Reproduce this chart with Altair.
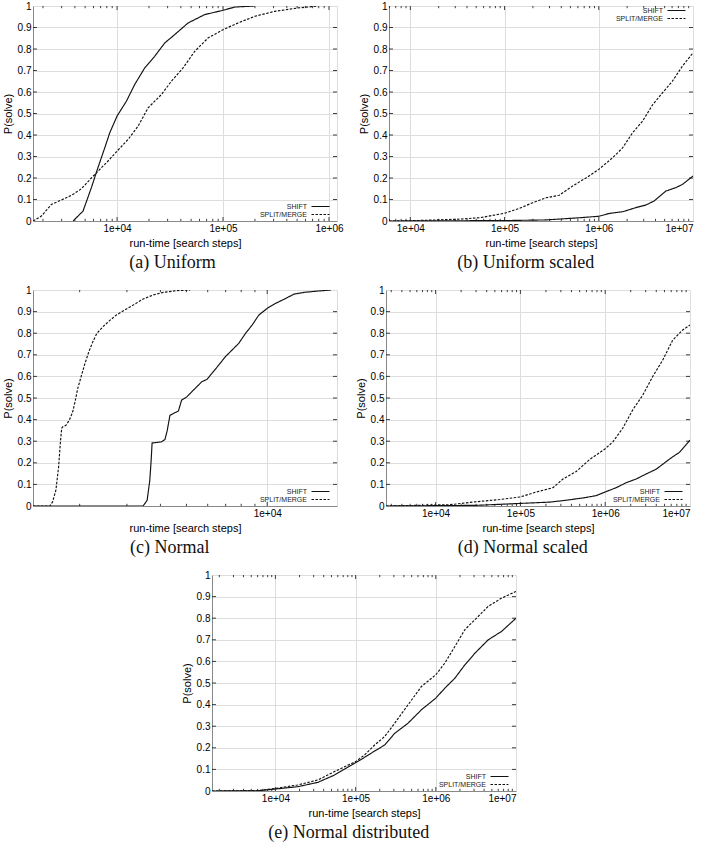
import math
import altair as alt
import pandas as pd

FONT = "Liberation Sans"
SERIF = "Liberation Serif"
SERIES = ["SHIFT", "SPLIT/MERGE"]

# ---------------- (a) Uniform ----------------
a_shift_x = [3846, 4775, 5724, 6622, 7651, 8531, 10000, 12250, 14680, 18240, 22650,
             28180, 34990, 46770, 67140, 100000, 128800, 199000]
a_shift_y = [0, 0.046, 0.155, 0.25, 0.34, 0.41, 0.488, 0.557, 0.635, 0.712, 0.766,
             0.828, 0.867, 0.921, 0.96, 0.98, 0.995, 1.0]
a_split_x = [1614, 1932, 2403, 2985, 3707, 4611, 5724, 6622, 8222, 10000, 12700, 15780,
             19600, 26200, 32570, 41950, 54030, 72140, 100000, 138600, 199000, 307000,
             510000, 787000]
a_split_y = [0, 0.023, 0.077, 0.098, 0.119, 0.15, 0.2, 0.232, 0.279, 0.325, 0.379, 0.441,
             0.526, 0.588, 0.65, 0.712, 0.789, 0.851, 0.89, 0.921, 0.952, 0.975, 0.991, 1.0]

# ---------------- (b) Uniform scaled ----------------
b_shift_x = [5940, 100000, 275600, 621000, 1000000, 1290000, 1790000, 2470000, 3150000,
             3860000, 4550000, 5140000, 6560000, 7710000, 10000000]
b_shift_y = [0, 0.002, 0.005, 0.015, 0.022, 0.035, 0.043, 0.062, 0.074, 0.093, 0.119,
             0.139, 0.155, 0.17, 0.209]
b_split_x = [5940, 10000, 30700, 54200, 100000, 143900, 199000, 275600, 381300, 528000,
             730800, 1000000, 1400000, 1790000, 2280000, 2910000, 3720000, 4740000,
             6040000, 7710000, 10000000]
b_split_y = [0, 0.001, 0.008, 0.015, 0.036, 0.059, 0.085, 0.108, 0.12, 0.163, 0.2, 0.24,
             0.294, 0.34, 0.41, 0.464, 0.54, 0.596, 0.65, 0.72, 0.782]

# ---------------- (c) Normal ----------------
c_shift_x = [1340, 3447, 3568, 3651, 3693, 3724, 3868, 4037, 4159, 4241, 4340, 4467, 4667,
             4797, 5012, 5236, 5464, 5702, 5957, 6223, 6592, 6982, 7396, 7834, 8298, 8790,
             9306, 10000, 10740, 11550, 12590, 13720, 15400, 17280]
c_shift_y = [0, 0, 0.026, 0.119, 0.21, 0.292, 0.294, 0.297, 0.308, 0.35, 0.42, 0.428, 0.44,
             0.49, 0.505, 0.529, 0.552, 0.575, 0.586, 0.614, 0.652, 0.691, 0.722, 0.753,
             0.799, 0.838, 0.884, 0.915, 0.938, 0.957, 0.981, 0.989, 0.995, 1.0]
c_split_x = [1340, 1549, 1585, 1631, 1669, 1694, 1714, 1728, 1778, 1830, 1884, 1922, 1967,
             2024, 2084, 2163, 2239, 2317, 2441, 2585, 2738, 2944, 3162, 3447, 3758, 4097,
             4597, 5158]
c_split_y = [0, 0, 0.019, 0.073, 0.18, 0.29, 0.36, 0.366, 0.374, 0.397, 0.436, 0.482,
             0.544, 0.598, 0.652, 0.714, 0.76, 0.799, 0.83, 0.858, 0.884, 0.907, 0.93,
             0.958, 0.977, 0.989, 0.997, 1.0]

# ---------------- (d) Normal scaled ----------------
d_shift_x = [2604, 30360, 100000, 221300, 317700, 545800, 783000, 1000000, 1350000,
             1770000, 2320000, 3030000, 3980000, 5220000, 6250000, 7500000, 10000000]
d_shift_y = [0, 0.003, 0.012, 0.018, 0.025, 0.037, 0.048, 0.065, 0.085, 0.108, 0.125,
             0.148, 0.17, 0.205, 0.228, 0.248, 0.305]
d_split_x = [2604, 14750, 30360, 57100, 100000, 154300, 242300, 317700, 456000, 654600,
             1000000, 1230000, 1610000, 2110000, 2770000, 3640000, 4760000, 6250000,
             8200000, 10000000]
d_split_y = [0, 0.006, 0.02, 0.03, 0.042, 0.065, 0.085, 0.125, 0.16, 0.215, 0.265, 0.297,
             0.36, 0.445, 0.513, 0.6, 0.675, 0.768, 0.815, 0.838]

# ---------------- (e) Normal distributed ----------------
e_shift_x = [1622, 6010, 10000, 19000, 33840, 54630, 100000, 129600, 172800, 230400,
             307300, 451000, 662000, 1000000, 1296000, 1728000, 2304000, 3073000,
             4510000, 6620000, 10000000]
e_shift_y = [0, 0.001, 0.009, 0.02, 0.04, 0.074, 0.131, 0.156, 0.185, 0.213, 0.267, 0.314,
             0.376, 0.43, 0.476, 0.522, 0.584, 0.638, 0.7, 0.739, 0.8]
e_split_x = [1622, 6010, 10000, 19000, 33840, 54630, 100000, 129600, 172800, 230400,
             307300, 451000, 662000, 1000000, 1296000, 1728000, 2304000, 3073000,
             4510000, 6620000, 10000000]
e_split_y = [0, 0.002, 0.012, 0.028, 0.051, 0.09, 0.136, 0.167, 0.213, 0.252, 0.314, 0.399,
             0.484, 0.538, 0.592, 0.669, 0.747, 0.793, 0.855, 0.893, 0.924]

# axis tick labels
y_ticks = [0, 0.1, 0.2, 0.3, 0.4, 0.5, 0.6, 0.7, 0.8, 0.9, 1]
x_major_a = [10000, 100000, 1000000]
x_major_bde = [10000, 100000, 1000000, 10000000]
x_major_c = [10000]

domains = {
    "a": [1610, 1190000],
    "b": [5940, 10000000],
    "c": [1340, 18200],
    "d": [2600, 10000000],
    "e": [1620, 10000000],
}

W, H = 304, 215


def tick_frames(domain, w, h):
    lo, hi = domain
    xt = []
    for e in range(int(math.floor(math.log10(lo))), int(math.ceil(math.log10(hi))) + 1):
        for k in range(1, 10):
            v = k * 10 ** e
            if lo < v < hi:
                ln = (4.0 if k == 1 else 2.2) / h
                xt.append({"v": v, "y0": 0, "y1": ln})
                xt.append({"v": v, "y0": 1, "y1": 1 - ln})
    f = 10 ** (4.0 * (math.log10(hi) - math.log10(lo)) / w)
    yt = []
    for t in y_ticks[1:-1]:
        yt.append({"v": t, "x0": lo, "x1": lo * f})
        yt.append({"v": t, "x0": hi, "x1": hi / f})
    return pd.DataFrame(xt), pd.DataFrame(yt)


def panel(sx, sy, px, py, domain, majors, caption, leg_y, h=H, cap_offset=6):
    rows = [{"series": "SHIFT", "x": x, "y": y} for x, y in zip(sx, sy)]
    rows += [{"series": "SPLIT/MERGE", "x": x, "y": y} for x, y in zip(px, py)]
    df = pd.DataFrame(rows)
    lo, hi = domain
    xscale = alt.Scale(type="log", domain=domain, nice=False)
    yscale = alt.Scale(domain=[0, 1], nice=False)
    edge_x = "datum.value <= %g || datum.value >= %g" % (lo * 1.001, hi * 0.999)
    xaxis = alt.Axis(values=majors, title="run-time [search steps]",
                     titleFontWeight="normal", tickSize=0, ticks=False,
                     labelExpr="'1e+0' + round(log(datum.value) / LN10)",
                     gridOpacity={"condition": {"test": edge_x, "value": 0}, "value": 1})
    yaxis = alt.Axis(values=y_ticks, title="P(solve)", format="~g",
                     titleFontWeight="normal", tickSize=0, ticks=False,
                     gridOpacity={"condition": {"test": "datum.value <= 0 || datum.value >= 1",
                                                "value": 0}, "value": 1})
    xt, yt = tick_frames(domain, W, h)

    lines = alt.Chart(df).mark_line(color="#111", strokeWidth=1.15, clip=True).encode(
        x=alt.X("x:Q", scale=xscale, axis=xaxis),
        y=alt.Y("y:Q", scale=yscale, axis=yaxis),
        strokeDash=alt.StrokeDash(
            "series:N",
            scale=alt.Scale(domain=SERIES, range=[[1, 0], [2.5, 1.5]]),
            legend=alt.Legend(
                title=None, orient="none", legendX=284, legendY=leg_y,
                symbolType="M-6,0H6", symbolSize=9,
                symbolStrokeColor="#111", symbolStrokeWidth=1.1,
                labelAlign="right", labelOffset={"expr": "-17"}, labelFont=FONT,
                labelFontSize=7, labelColor="#222", rowPadding=0, padding=0,
                symbolOffset=0, labelLimit=200,
            ),
        ),
        order="x:Q",
    )
    xticks = alt.Chart(xt).mark_rule(color="#111", strokeWidth=0.8).encode(
        x=alt.X("v:Q", scale=xscale, axis=xaxis),
        y=alt.Y("y0:Q", scale=yscale, axis=yaxis),
        y2="y1:Q",
    )
    yticks = alt.Chart(yt).mark_rule(color="#111", strokeWidth=0.8).encode(
        x=alt.X("x0:Q", scale=xscale, axis=xaxis),
        x2="x1:Q",
        y=alt.Y("v:Q", scale=yscale, axis=yaxis),
    )
    return alt.layer(lines, xticks, yticks).properties(
        width=W, height=h,
        title=alt.TitleParams(caption, orient="bottom", anchor="middle", frame="bounds",
                              font=SERIF, fontSize=18, fontWeight="normal",
                              color="#111", offset=cap_offset),
    )


pa = panel(a_shift_x, a_shift_y, a_split_x, a_split_y, domains["a"], x_major_a,
           "(a)  Uniform", 197)
pb = panel(b_shift_x, b_shift_y, b_split_x, b_split_y, domains["b"], x_major_bde,
           "(b)  Uniform scaled", 1)
pc = panel(c_shift_x, c_shift_y, c_split_x, c_split_y, domains["c"], x_major_c,
           "(c)  Normal", 198, h=216)
pd_ = panel(d_shift_x, d_shift_y, d_split_x, d_split_y, domains["d"], x_major_bde,
            "(d)  Normal scaled", 198, h=216)
pe = panel(e_shift_x, e_shift_y, e_split_x, e_split_y, domains["e"], x_major_bde,
           "(e)  Normal distributed", 198, h=216)

# empty spacer that places panel (e) under the middle of the page
spacer = alt.Chart(pd.DataFrame({"t": [""]})).mark_text().encode(
    text="t:N"
).properties(width=146, height=10, view=alt.ViewBackground(stroke="transparent"))

row1 = alt.hconcat(pa, pb, spacing=13).resolve_scale(strokeDash="independent")
row2 = alt.hconcat(pc, pd_, spacing=16).resolve_scale(strokeDash="independent")
row3 = alt.hconcat(spacer, pe, spacing=0).resolve_scale(strokeDash="independent")

chart = alt.vconcat(row1, row2, row3, spacing=11).resolve_scale(
    strokeDash="independent"
).properties(
    padding={"left": 1, "top": 0, "right": 5, "bottom": 0}
).configure_view(
    stroke="#111", strokeWidth=1
).configure_axis(
    domain=False, ticks=False, tickSize=0,
    labelFont=FONT, labelFontSize=7.5, labelColor="#222",
    titleFont=FONT, titleFontSize=7, titleFontWeight="normal", titleColor="#222",
    gridColor="#8a8a8a", gridDash=[1, 1.6], gridWidth=0.7,
).configure_axisX(
    labelPadding=3, titlePadding=2,
).configure_axisY(
    labelPadding=7, titlePadding=8,
).configure(background="white")

chart.save("out.html", embed_options={"renderer": "svg", "actions": False})
